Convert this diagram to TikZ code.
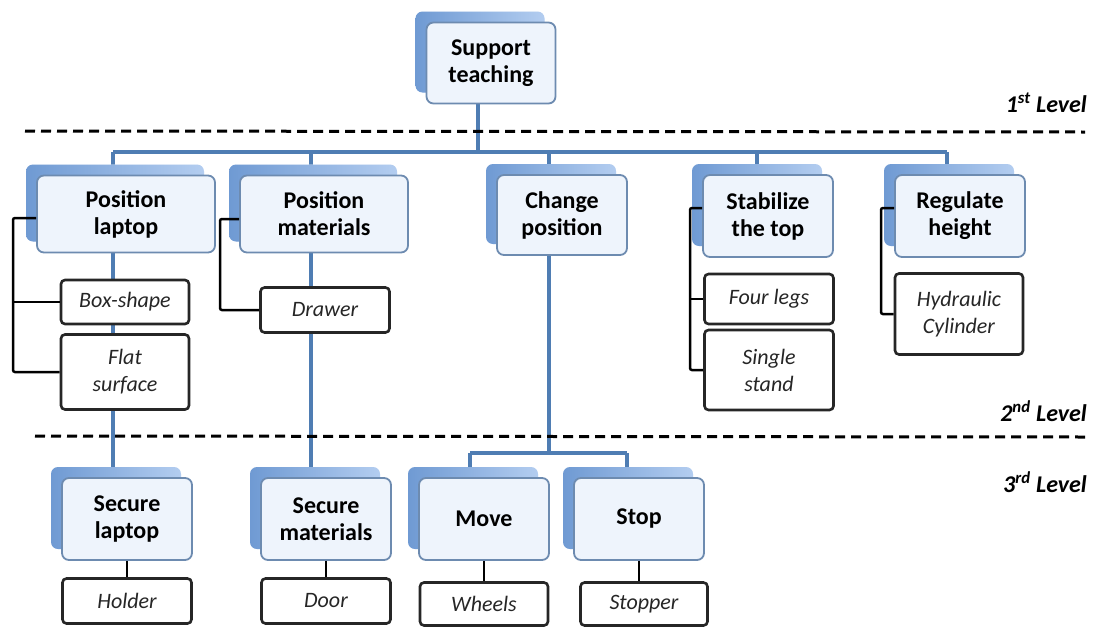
\documentclass[tikz,border=0pt]{standalone}
\usepackage{fontspec}
\setmainfont{Carlito}
\usepackage{tikz}
\usepackage{xcolor}
\usetikzlibrary{shadows,backgrounds}

\definecolor{busblue}{HTML}{4F7DB3}
\definecolor{frontfill}{HTML}{EEF4FC}
\definecolor{frontedge}{HTML}{6D8BB0}
\definecolor{shadowdk}{HTML}{6F9AD3}
\definecolor{shadowlt}{HTML}{B3CDF0}

\begin{document}
\begin{tikzpicture}[x=1pt,y=-1pt,
  fn/.style={draw=frontedge,line width=1.8pt,fill=frontfill,rounded corners=7pt,
    align=center,inner sep=2pt,minimum width=130pt,minimum height=82pt,
    font=\fontsize{24}{27}\selectfont\bfseries,
    copy shadow={shadow xshift=-11pt,shadow yshift=11pt,draw=none,
      left color=shadowdk,right color=shadowlt}},
  sub/.style={draw=black!85,line width=2.6pt,fill=white,rounded corners=4pt,
    align=center,inner sep=2pt,minimum width=129pt,minimum height=45pt,
    font=\fontsize{22}{27}\selectfont\itshape,text=black!85},
  bus/.style={busblue,line width=4pt},
  brk/.style={black,line width=2.5pt,rounded corners=2pt},
  lvl/.style={anchor=east,inner sep=0pt,font=\fontsize{24}{28}\selectfont\bfseries\itshape},
  sep/.style={black,line width=3pt,dash pattern=on 10pt off 6pt}]
\useasboundingbox (0,0) rectangle (1098,627);

% level lines
\draw[sep] (25,131) -- (1085,132);
\draw[sep] (35,436) -- (1085,437);
\node[lvl] (l1) at (1087,103) {1\textsuperscript{st} Level};
\node[lvl] (l2) at (1087,411) {2\textsuperscript{nd} Level};
\node[lvl] (l3) at (1087,482) {3\textsuperscript{rd} Level};

% 1st level
\node[fn,minimum width=129pt,minimum height=81pt] (sup) at (491,63) {Support\\teaching};

% 2nd level
\node[fn,minimum width=178pt,minimum height=77pt] (pl) at (126,214) {Position\\laptop};
\node[fn,minimum width=168pt,minimum height=77pt] (pm) at (324,214) {Position\\materials};
\node[fn,minimum height=80pt] (cp) at (562,215) {Change\\position};
\node[fn] (sb) at (768,216) {Stabilize\\the top};
\node[fn] (rh) at (960,216) {Regulate\\height};

\node[sub,minimum width=128pt,minimum height=44pt] (bs) at (125,302) {Box-shape};
\node[sub,minimum width=128pt,minimum height=75pt] (fs) at (125,372) {Flat\\surface};
\node[sub] (dr) at (325,310) {Drawer};
\node[sub,minimum height=50pt] (fl) at (769,299) {Four legs};
\node[sub,minimum height=80pt] (ss) at (769,370) {Single\\stand};
\node[sub,minimum width=128pt,minimum height=81pt] (hc) at (959,314) {Hydraulic\\Cylinder};

% 3rd level
\node[fn] (sl) at (127,519) {Secure\\laptop};
\node[fn] (sm) at (326,519) {Secure\\materials};
\node[fn] (mv) at (484,519) {Move};
\node[fn] (sp) at (639,519) {Stop};

\node[sub] (ho) at (127,601) {Holder};
\node[sub] (do) at (326,601) {Door};
\node[sub,minimum width=128pt,minimum height=43pt] (wh) at (484,604) {Wheels};
\node[sub,minimum width=127pt,minimum height=43pt] (so) at (644,604) {Stopper};

% blue tree
\coordinate (b0) at (478,152);
\coordinate (b1) at (113,152);
\coordinate (b2) at (311,152);
\coordinate (b3) at (549,152);
\coordinate (b4) at (757,152);
\coordinate (b5) at (947,152);
\coordinate (m0) at (549,453);
\coordinate (m1) at (470,453);
\coordinate (m2) at (627,453);
\begin{pgfonlayer}{background}
\draw[bus] (b0 |- sup.center) -- (b0);
\draw[bus] (b1) -- (b5);
\draw[bus] (b1) -- (b1 |- sl.center);
\draw[bus] (b2) -- (b2 |- sm.center);
\draw[bus] (b3) -- (m0);
\draw[bus] (m1) -- (m2);
\draw[bus] (m1) -- (m1 |- mv.center);
\draw[bus] (m2) -- (m2 |- sp.center);
\draw[bus] (b4) -- (b4 |- sb.center);
\draw[bus] (b5) -- (b5 |- rh.center);
\end{pgfonlayer}

% black brackets
\coordinate (k1) at (13,218);
\coordinate (k2) at (220,219);
\coordinate (k3) at (690,208);
\coordinate (k4) at (881,208);
\draw[brk] (pl.west |- k1) -- (k1) |- (fs.west);
\draw[brk] (k1 |- bs.west) -- (bs.west);
\draw[brk] (pm.west |- k2) -- (k2) |- (dr.west);
\draw[brk] (sb.west |- k3) -- (k3) |- (ss.west);
\draw[brk] (k3 |- fl.west) -- (fl.west);
\draw[brk] (rh.west |- k4) -- (k4) |- (hc.west);

\draw[brk] (sl.south) -- (ho.north);
\draw[brk] (sm.south) -- (do.north);
\draw[brk] (mv.south) -- (wh.north);
\draw[brk] (sp.south) -- (sp.south |- so.north);
\end{tikzpicture}
\end{document}
